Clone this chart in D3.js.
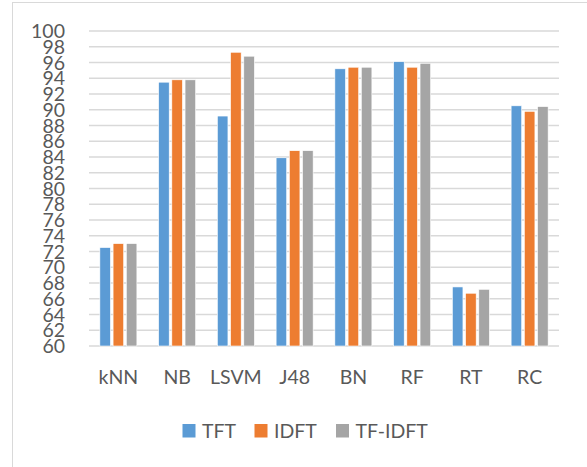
<!DOCTYPE html>
<html><head><meta charset="utf-8">
<script src="https://cdn.jsdelivr.net/npm/d3@7"></script>
<style>body{margin:0;background:#fff;}svg{display:block;}</style>
</head><body>
<script>
const categories = ["kNN","NB","LSVM","J48","BN","RF","RT","RC"];
const seriesNames = ["TFT","IDFT","TF-IDFT"];
const tft   = [72.5, 93.5, 89.2, 83.9, 95.2, 96.1, 67.5, 90.5];
const idft  = [73.0, 93.8, 97.3, 84.8, 95.4, 95.4, 66.7, 89.8];
const tfidf = [73.0, 93.8, 96.8, 84.8, 95.4, 95.9, 67.2, 90.4];
const yTicks = d3.range(60, 101, 2);
const colors = ["#5b9bd5","#ed7d31","#a5a5a5"];
const seriesValues = [tft, idft, tfidf];

const W = 587, H = 467;
const svg = d3.select("body").append("svg").attr("width", W).attr("height", H);
svg.append("rect").attr("x",12.5).attr("y",2.5).attr("width",700).attr("height",600)
  .attr("fill","#fff").attr("stroke","#d9d9d9").attr("stroke-width",1);

const x = d3.scaleBand().domain(categories).range([89, 559]).paddingInner(0.37).paddingOuter(0.185);
const xs = d3.scaleBand().domain(seriesNames).range([0, x.bandwidth()]).paddingInner(0.2);
const y = d3.scaleLinear().domain([60, 100]).range([346, 31]);

const font = "Lato, 'Open Sans', sans-serif";
const fs = "19.5px";
// gridlines
svg.append("g").selectAll("line").data(yTicks).join("line")
  .attr("x1", 89).attr("x2", 559)
  .attr("y1", d => y(d)).attr("y2", d => y(d))
  .attr("stroke", "#d9d9d9").attr("stroke-width", 1.5);

// y labels
svg.append("g").selectAll("text").data(yTicks).join("text")
  .attr("x", 65).attr("y", d => y(d)).attr("dy", "0.36em")
  .attr("text-anchor", "end").attr("fill", "#595959")
  .style("font-family", font).style("font-size", fs).text(d => d);

// bars
const rows = [];
categories.forEach((c, i) => seriesNames.forEach((s, j) => rows.push({c, s, j, v: seriesValues[j][i]})));
svg.append("g").selectAll("rect").data(rows).join("rect")
  .attr("x", d => x(d.c) + xs(d.s)).attr("width", xs.bandwidth())
  .attr("y", d => y(d.v)).attr("height", d => y(60) - y(d.v))
  .attr("fill", d => colors[d.j]).attr("stroke", "#fff").attr("stroke-width", 0.6);

// x labels
svg.append("g").selectAll("text").data(categories).join("text")
  .attr("x", d => x(d) + x.bandwidth()/2).attr("y", 384)
  .attr("text-anchor", "middle").attr("fill", "#595959")
  .style("font-family", font).style("font-size", fs).text(d => d);

// legend
const legX = [182.5, 254.5, 336];
const leg = svg.append("g").selectAll("g").data(seriesNames).join("g")
  .attr("transform", (d, i) => `translate(${legX[i]},424)`);
leg.append("rect").attr("width", 13).attr("height", 13.5).attr("fill", (d, i) => colors[i]);
leg.append("text").attr("x", 19.5).attr("y", 7).attr("dy", "0.36em").attr("fill", "#595959")
  .style("font-family", font).style("font-size", fs).text(d => d);
</script>
</body></html>
